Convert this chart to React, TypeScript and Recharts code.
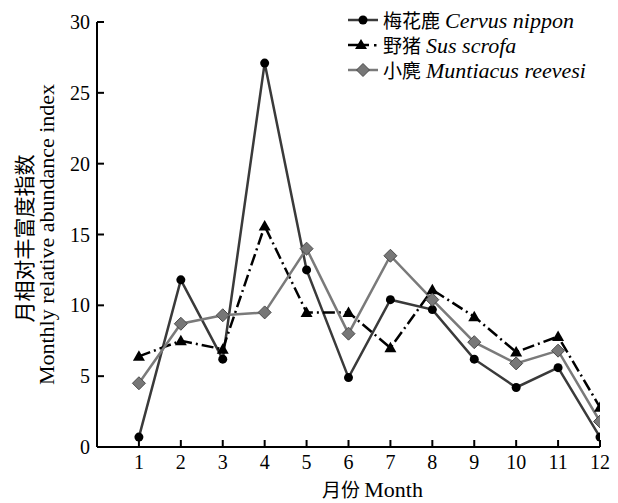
import React from "react";
import { LineChart, Line, XAxis, YAxis, Legend, Label } from "recharts";

const months = [1, 2, 3, 4, 5, 6, 7, 8, 9, 10, 11, 12];
const cervus = [0.7, 11.8, 6.2, 27.1, 12.5, 4.9, 10.4, 9.7, 6.2, 4.2, 5.6, 0.7];
const sus = [6.4, 7.5, 6.9, 15.6, 9.5, 9.5, 7.0, 11.1, 9.2, 6.7, 7.8, 2.8];
const muntiacus = [4.5, 8.7, 9.3, 9.5, 14.0, 8.0, 13.5, 10.4, 7.4, 5.9, 6.8, 1.8];
const yTicks = [0, 5, 10, 15, 20, 25, 30];

const data = months.map((m, i) => ({
  month: m,
  cervus: cervus[i],
  sus: sus[i],
  muntiacus: muntiacus[i],
}));

const SERIF = "'Liberation Serif', 'Times New Roman', serif";
const CJK = "'Noto Sans CJK SC', sans-serif";
const CERVUS_LINE = "#3a3a3a";
const MUNT_LINE = "#7a7a7a";
const MUNT_FILL = "#777777";
const SUS_DASH = "12 4 2 4";
const TICK_GAP = 12;
const TICK_LEN = 7;

const Circle = (props: any) => {
  const { cx, cy, index } = props;
  if (cx == null || cy == null) return null;
  return <circle key={`c${index}`} cx={cx} cy={cy} r={4.5} fill="#000" />;
};

const Triangle = (props: any) => {
  const { cx, cy, index } = props;
  if (cx == null || cy == null) return null;
  return (
    <path
      key={`t${index}`}
      d={`M${cx},${cy - 6} L${cx + 6},${cy + 4.5} L${cx - 6},${cy + 4.5} Z`}
      fill="#000"
    />
  );
};

const Diamond = (props: any) => {
  const { cx, cy, index } = props;
  if (cx == null || cy == null) return null;
  return (
    <path
      key={`d${index}`}
      d={`M${cx},${cy - 6.5} L${cx + 6.5},${cy} L${cx},${cy + 6.5} L${cx - 6.5},${cy} Z`}
      fill={MUNT_FILL}
      stroke="#4a4a4a"
      strokeWidth={1}
    />
  );
};

// ticks drawn by hand so the tick marks point into the plot
const XTick = (props: any) => {
  const { x, y, payload } = props;
  const axisY = y - TICK_GAP;
  return (
    <g>
      <path d={`M${x},${axisY} V${axisY - TICK_LEN}`} stroke="#000" strokeWidth={2} fill="none" />
      <text
        x={x}
        y={axisY + 22}
        textAnchor="middle"
        style={{ fontFamily: SERIF, fontSize: 20 }}
        fill="#000"
      >
        {payload.value}
      </text>
    </g>
  );
};

const YTick = (props: any) => {
  const { x, y, payload } = props;
  const axisX = x + TICK_GAP;
  return (
    <g>
      <path d={`M${axisX},${y} H${axisX + TICK_LEN}`} stroke="#000" strokeWidth={2} fill="none" />
      <text
        x={axisX - 7}
        y={y + 7}
        textAnchor="end"
        style={{ fontFamily: SERIF, fontSize: 20 }}
        fill="#000"
      >
        {payload.value}
      </text>
    </g>
  );
};

const legendItems = [
  { zh: "梅花鹿", la: "Cervus nippon", kind: "cervus" },
  { zh: "野猪", la: "Sus scrofa", kind: "sus" },
  { zh: "小麂", la: "Muntiacus reevesi", kind: "muntiacus" },
];

const LegendIcon = ({ kind }: { kind: string }) => (
  <svg width={32} height={16} style={{ display: "block" }}>
    {kind === "cervus" && (
      <>
        <line x1={1} y1={8} x2={31} y2={8} stroke={CERVUS_LINE} strokeWidth={2.5} />
        <circle cx={16} cy={8} r={4.5} fill="#000" />
      </>
    )}
    {kind === "sus" && (
      <>
        <line x1={1} y1={8} x2={22} y2={8} stroke="#000" strokeWidth={2.5} />
        <path d="M14,2 L20,12 L8,12 Z" fill="#000" />
        <rect x={27} y={7} width={2.5} height={2.5} fill="#000" />
      </>
    )}
    {kind === "muntiacus" && (
      <>
        <line x1={1} y1={8} x2={31} y2={8} stroke={MUNT_LINE} strokeWidth={2.5} />
        <path d="M16,1.5 L22.5,8 L16,14.5 L9.5,8 Z" fill={MUNT_FILL} stroke="#4a4a4a" />
      </>
    )}
  </svg>
);

const LegendContent = () => (
  <div style={{ fontSize: 22, color: "#000", lineHeight: "25px" }}>
    {legendItems.map((it) => (
      <div key={it.kind} style={{ display: "flex", alignItems: "center", height: 25 }}>
        <LegendIcon kind={it.kind} />
        <span style={{ marginLeft: 4, whiteSpace: "nowrap" }}>
          <span style={{ fontFamily: CJK, fontSize: 19, marginRight: 5 }}>{it.zh}</span>
          <i style={{ fontFamily: SERIF }}>{it.la}</i>
        </span>
      </div>
    ))}
  </div>
);

const YTitle = (props: any) => {
  const vb = props.viewBox || {};
  const cy = vb.y + vb.height / 2;
  return (
    <g fill="#000">
      <text
        x={23}
        y={cy + 4}
        textAnchor="middle"
        dominantBaseline="central"
        transform={`rotate(-90, 23, ${cy + 4})`}
        style={{ fontFamily: CJK, fontSize: 21 }}
      >
        月相对丰富度指数
      </text>
      <text
        x={46}
        y={cy}
        textAnchor="middle"
        dominantBaseline="central"
        transform={`rotate(-90, 46, ${cy})`}
        style={{ fontFamily: SERIF, fontSize: 22 }}
      >
        Monthly relative abundance index
      </text>
    </g>
  );
};

const XTitle = (props: any) => {
  const vb = props.viewBox || {};
  return (
    <text
      x={vb.x + vb.width / 2 + 24}
      y={vb.y + 50}
      textAnchor="middle"
      fill="#000"
    >
      <tspan style={{ fontFamily: CJK, fontSize: 19 }}>月份 </tspan>
      <tspan style={{ fontFamily: SERIF, fontSize: 22 }}>Month</tspan>
    </text>
  );
};

export default function App() {
  return (
    <div style={{ position: "absolute", left: 0, top: 0, background: "#fff" }}>
      <LineChart
        width={618}
        height={503}
        data={data}
        margin={{ top: 22, right: 18, left: 0, bottom: 0 }}
      >
        <XAxis
          dataKey="month"
          type="number"
          domain={[0, 12]}
          ticks={months}
          interval={0}
          height={56}
          stroke="#000"
          strokeWidth={2}
          tickSize={0}
          tickMargin={TICK_GAP}
          tickLine={false}
          tick={<XTick />}
          allowDataOverflow
        >
          <Label content={<XTitle />} />
        </XAxis>
        <YAxis
          domain={[0, 30]}
          ticks={yTicks}
          interval={0}
          width={97}
          stroke="#000"
          strokeWidth={2}
          tickSize={0}
          tickMargin={TICK_GAP}
          tickLine={false}
          tick={<YTick />}
        >
          <Label content={<YTitle />} />
        </YAxis>
        <Line
          dataKey="cervus"
          stroke={CERVUS_LINE}
          strokeWidth={2.5}
          dot={Circle}
          activeDot={false}
          isAnimationActive={false}
        />
        <Line
          dataKey="sus"
          stroke="#000"
          strokeWidth={2.5}
          strokeDasharray={SUS_DASH}
          dot={Triangle}
          activeDot={false}
          isAnimationActive={false}
        />
        <Line
          dataKey="muntiacus"
          stroke={MUNT_LINE}
          strokeWidth={2.5}
          dot={Diamond}
          activeDot={false}
          isAnimationActive={false}
        />
        <Legend
          layout="horizontal"
          verticalAlign="middle"
          align="center"
          content={<LegendContent />}
          wrapperStyle={{ position: "absolute", top: 7, left: 347, width: 270, height: 76 }}
        />
      </LineChart>
    </div>
  );
}
